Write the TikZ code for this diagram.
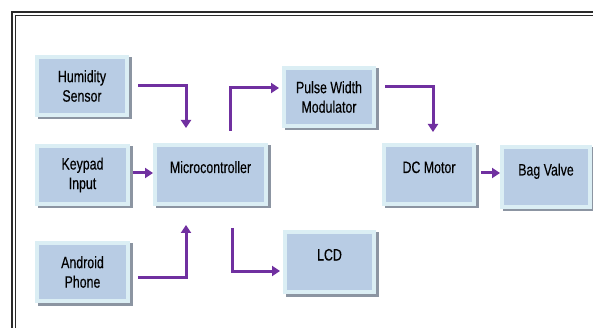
\documentclass[tikz,border=0pt]{standalone}
\usepackage{fontspec}
\newfontfamily\narrowfont{Liberation Sans}[FakeStretch=0.75,FakeBold=0.3]
\usetikzlibrary{arrows.meta}
\definecolor{boxfill}{HTML}{B8CCE4}
\definecolor{boxedge}{HTML}{DBEEF4}
\definecolor{boxshadow}{HTML}{8C95A2}
\definecolor{arrowpurple}{HTML}{7030A0}
\definecolor{framegray}{HTML}{2A2A2A}
\tikzset{
  blk/.style={rectangle, fill=boxfill, draw=boxedge, line width=4pt,
    inner sep=0pt, align=center, text=black,
    font=\narrowfont\fontsize{16.5}{19.5}\selectfont,
    preaction={fill=boxshadow, draw=boxshadow, line width=4pt,
      transform canvas={shift={(2.5pt,-2.5pt)}}}},
  oneline/.style={text height=12pt, text depth=15pt},
  arr/.style={draw=arrowpurple, line width=3pt,
    -{Triangle[length=8pt,width=10pt]}},
}
\begin{document}
\begin{tikzpicture}[x=1pt,y=-1pt]
\useasboundingbox (0,0) rectangle (593,328);
\fill[white] (0,0) rectangle (593,328);
% frame
\draw[framegray, line width=2pt] (12,328) -- (12,12) -- (593,12);
\draw[framegray, line width=1pt] (15.5,328) -- (15.5,15.5) -- (593,15.5);
% boxes
\node[blk, minimum width=90pt, minimum height=58pt] (hum) at (82,86) {Humidity\\Sensor};
\node[blk, minimum width=91pt, minimum height=58pt] (key) at (82.5,175) {Keypad\\Input};
\node[blk, minimum width=91pt, minimum height=58pt] (and) at (82.5,272) {Android\\Phone};
\node[blk, oneline, minimum width=111pt, minimum height=59pt] (mic) at (210.5,174.5) {Microcontroller};
\node[blk, minimum width=90pt, minimum height=58pt] (pwm) at (329,97) {Pulse Width\\Modulator};
\node[blk, oneline, minimum width=90pt, minimum height=59pt] (dc) at (429,174.5) {DC Motor};
\node[blk, oneline, minimum width=88pt, minimum height=60pt] (bag) at (546,177) {Bag Valve};
\node[blk, oneline, minimum width=89pt, minimum height=60pt] (lcd) at (329.5,262) {LCD};
% connectors
\draw[arr] ([xshift=9pt]hum.east) -| ([xshift=-24.5pt,yshift=15pt]mic.north);
\draw[arr] ([xshift=3pt,yshift=2pt]key.east) -- ([yshift=1.5pt]mic.west);
\draw[arr] ([xshift=8pt,yshift=-5pt]and.east) -| ([xshift=-24.5pt,yshift=-19pt]mic.south);
\draw[arr] ([xshift=19.5pt,yshift=12pt]mic.north) |- ([xshift=-3pt,yshift=9pt]pwm.west);
\draw[arr] ([xshift=21.5pt,yshift=-22pt]mic.south) |- ([xshift=-3pt,yshift=-9pt]lcd.west);
\draw[arr] ([xshift=9pt,yshift=10pt]pwm.east) -| ([xshift=4pt,yshift=11pt]dc.north);
\draw[arr] ([xshift=5pt,yshift=1.5pt]dc.east) -- ([yshift=4pt]bag.west);
\end{tikzpicture}
\end{document}
